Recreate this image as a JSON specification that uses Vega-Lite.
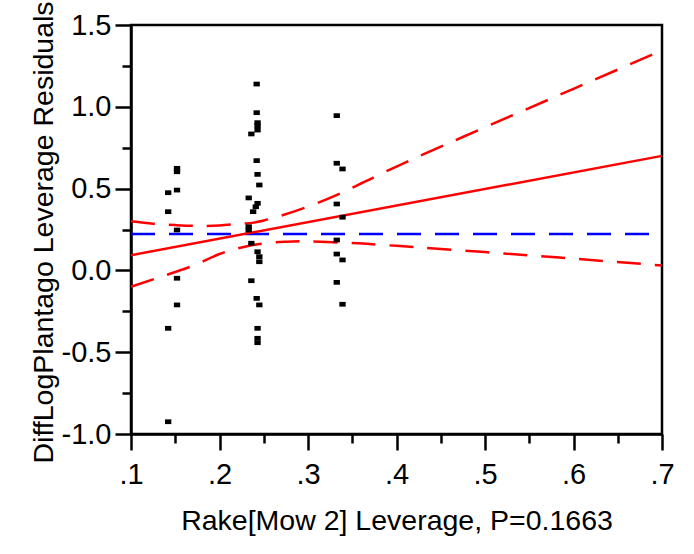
{
  "$schema": "https://vega.github.io/schema/vega-lite/v6.json",
  "autosize": {"type": "none"},
  "padding": {"left": 131, "top": 25, "right": 32, "bottom": 120},
  "width": 531,
  "height": 409,
  "background": "white",
  "config": {
    "view": {"stroke": "black", "strokeWidth": 2.5},
    "font": "Liberation Sans"
  },
  "datasets": {
    "pts": [
      {"lev": 0.142, "res": 0.475}, {"lev": 0.142, "res": 0.359}, {"lev": 0.142, "res": -0.354}, {"lev": 0.142, "res": -0.925},
      {"lev": 0.152, "res": 0.624}, {"lev": 0.152, "res": 0.603}, {"lev": 0.152, "res": 0.491}, {"lev": 0.152, "res": 0.247}, {"lev": 0.152, "res": -0.048}, {"lev": 0.152, "res": -0.211},
      {"lev": 0.242, "res": 1.139}, {"lev": 0.242, "res": 0.964}, {"lev": 0.243, "res": 0.903}, {"lev": 0.243, "res": 0.883}, {"lev": 0.243, "res": 0.858},
      {"lev": 0.236, "res": 0.834}, {"lev": 0.242, "res": 0.671}, {"lev": 0.243, "res": 0.587}, {"lev": 0.245, "res": 0.522}, {"lev": 0.233, "res": 0.443},
      {"lev": 0.243, "res": 0.41}, {"lev": 0.241, "res": 0.389}, {"lev": 0.238, "res": 0.359}, {"lev": 0.233, "res": 0.267}, {"lev": 0.233, "res": 0.247},
      {"lev": 0.236, "res": 0.166}, {"lev": 0.243, "res": 0.114}, {"lev": 0.245, "res": 0.084}, {"lev": 0.245, "res": 0.053}, {"lev": 0.236, "res": -0.063},
      {"lev": 0.242, "res": -0.171}, {"lev": 0.245, "res": -0.211}, {"lev": 0.243, "res": -0.354}, {"lev": 0.243, "res": -0.415}, {"lev": 0.243, "res": -0.442},
      {"lev": 0.3325, "res": 0.946}, {"lev": 0.3325, "res": 0.655}, {"lev": 0.3325, "res": 0.406}, {"lev": 0.3325, "res": 0.186}, {"lev": 0.3325, "res": 0.1}, {"lev": 0.3325, "res": -0.073},
      {"lev": 0.339, "res": 0.62}, {"lev": 0.339, "res": 0.325}, {"lev": 0.339, "res": 0.064}, {"lev": 0.339, "res": -0.207}
    ],
    "band": [
      {"lev": 0.1, "res": 0.3, "side": "upper"}, {"lev": 0.125, "res": 0.285, "side": "upper"}, {"lev": 0.15, "res": 0.277, "side": "upper"},
      {"lev": 0.175, "res": 0.272, "side": "upper"}, {"lev": 0.2, "res": 0.275, "side": "upper"}, {"lev": 0.225, "res": 0.285, "side": "upper"},
      {"lev": 0.25, "res": 0.305, "side": "upper"}, {"lev": 0.3, "res": 0.39, "side": "upper"}, {"lev": 0.35, "res": 0.505, "side": "upper"},
      {"lev": 0.4, "res": 0.635, "side": "upper"}, {"lev": 0.5, "res": 0.875, "side": "upper"}, {"lev": 0.6, "res": 1.11, "side": "upper"},
      {"lev": 0.7, "res": 1.345, "side": "upper"},
      {"lev": 0.1, "res": -0.1, "side": "lower"}, {"lev": 0.125, "res": -0.055, "side": "lower"}, {"lev": 0.15, "res": -0.01, "side": "lower"},
      {"lev": 0.175, "res": 0.04, "side": "lower"}, {"lev": 0.2, "res": 0.1, "side": "lower"}, {"lev": 0.225, "res": 0.14, "side": "lower"},
      {"lev": 0.25, "res": 0.165, "side": "lower"}, {"lev": 0.275, "res": 0.175, "side": "lower"}, {"lev": 0.3, "res": 0.177, "side": "lower"},
      {"lev": 0.35, "res": 0.167, "side": "lower"}, {"lev": 0.4, "res": 0.15, "side": "lower"}, {"lev": 0.5, "res": 0.112, "side": "lower"},
      {"lev": 0.6, "res": 0.072, "side": "lower"}, {"lev": 0.7, "res": 0.03, "side": "lower"}
    ],
    "fit": [{"lev": 0.1, "res": 0.093}, {"lev": 0.7, "res": 0.7}],
    "mean": [{"lev": 0.1, "res": 0.222}, {"lev": 0.7, "res": 0.222}]
  },
  "layer": [
    {
      "data": {"name": "band"},
      "mark": {"type": "line", "color": "#FF0000", "strokeWidth": 2.5, "strokeDash": [24, 14], "interpolate": "natural"},
      "encoding": {
        "x": {"field": "lev", "type": "quantitative", "axis": null},
        "y": {"field": "res", "type": "quantitative", "axis": null},
        "detail": {"field": "side"}
      }
    },
    {
      "data": {"name": "mean"},
      "mark": {"type": "line", "color": "#0000FF", "strokeWidth": 2.5, "strokeDash": [24, 14]},
      "encoding": {
        "x": {"field": "lev", "type": "quantitative", "axis": null},
        "y": {"field": "res", "type": "quantitative", "axis": null}
      }
    },
    {
      "data": {"name": "fit"},
      "mark": {"type": "line", "color": "#FF0000", "strokeWidth": 2.5},
      "encoding": {
        "x": {"field": "lev", "type": "quantitative",
          "axis": {"orient": "bottom", "values": [0.15, 0.25, 0.35, 0.45, 0.55, 0.65], "tickSize": 9, "tickWidth": 2.5, "tickColor": "black", "labels": false, "domain": false, "grid": false, "title": null}},
        "y": {"field": "res", "type": "quantitative",
          "axis": {"orient": "left", "values": [-0.75, -0.25, 0.25, 0.75, 1.25], "tickSize": 9, "tickWidth": 2.5, "tickColor": "black", "labels": false, "domain": false, "grid": false, "title": null}}
      }
    },
    {
      "data": {"name": "pts"},
      "mark": {"type": "point", "shape": "M-1,-0.75H1V0.75H-1Z", "size": 40, "filled": true, "color": "black", "opacity": 1},
      "encoding": {
        "x": {"field": "lev", "type": "quantitative",
          "scale": {"domain": [0.1, 0.7], "nice": false, "zero": false},
          "axis": {"orient": "bottom", "values": [0.1, 0.2, 0.3, 0.4, 0.5, 0.6, 0.7], "tickSize": 16, "tickWidth": 2.5, "tickColor": "black",
            "domain": true, "domainColor": "black", "domainWidth": 2.5, "grid": false,
            "labelFont": "Liberation Sans", "labelFontSize": 29, "labelColor": "black", "labelFlush": false, "labelOverlap": false,
            "labelBaseline": "alphabetic", "labelPadding": 33,
            "labelExpr": "replace(format(datum.value, '.1f'), '0.', '.')",
            "title": "Rake[Mow 2] Leverage, P=0.1663", "titleFont": "Liberation Sans", "titleFontSize": 28.5, "titleFontWeight": "normal", "titleColor": "black",
            "titleBaseline": "alphabetic", "titleY": 95}},
        "y": {"field": "res", "type": "quantitative",
          "scale": {"domain": [-1, 1.5], "nice": false, "zero": false},
          "axis": {"orient": "left", "values": [-1, -0.5, 0, 0.5, 1, 1.5], "tickSize": 16, "tickWidth": 2.5, "tickColor": "black",
            "domain": true, "domainColor": "black", "domainWidth": 2.5, "grid": false,
            "labelFont": "Liberation Sans", "labelFontSize": 29, "labelColor": "black", "labelFlush": false, "labelOverlap": false,
            "labelPadding": 4, "labelBaseline": "middle",
            "labelExpr": "(datum.value < 0 ? '-' : '') + format(abs(datum.value), '.1f')",
            "title": "DiffLogPlantago Leverage Residuals", "titleFont": "Liberation Sans", "titleFontSize": 28.5, "titleFontWeight": "normal", "titleColor": "black",
            "titleAngle": 270, "titleAlign": "left", "titleBaseline": "alphabetic", "titleX": -79, "titleY": 438}}
      }
    }
  ],
  "resolve": {"axis": {"x": "independent", "y": "independent"}}
}
